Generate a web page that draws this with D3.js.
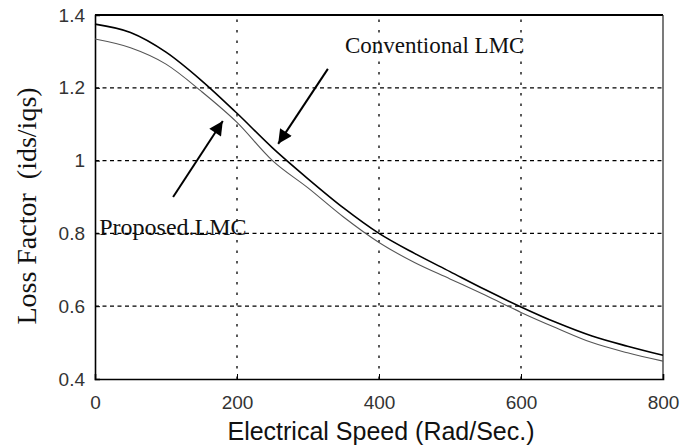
<!DOCTYPE html>
<html><head><meta charset="utf-8">
<script src="https://cdn.jsdelivr.net/npm/d3@7"></script>
<style>body{margin:0;background:#fff}svg{display:block}</style>
</head><body>
<svg id="chart" width="683" height="445"></svg>
<script>
const speeds = [0,50,100,150,200,250,300,350,400,450,500,550,600,650,700,750,800];
const conventional = [1.375,1.352,1.298,1.22,1.13,1.035,0.95,0.87,0.80,0.745,0.695,0.645,0.598,0.555,0.518,0.49,0.465];
const proposed = [1.334,1.31,1.265,1.19,1.105,1.0,0.925,0.845,0.775,0.72,0.675,0.63,0.583,0.54,0.50,0.472,0.449];
const xTicks = [0,200,400,600,800];
const yTicks = [0.4,0.6,0.8,1,1.2,1.4];
const xTitle = "Electrical Speed (Rad/Sec.)";
const yTitle = "Loss Factor  (ids/iqs)";
const annotations = [
  {label:"Conventional LMC", tx:352, ty:1.318, from:[328,1.252], to:[258,1.046]},
  {label:"Proposed.LMC", tx:6, ty:0.82, from:[110,0.90], to:[180,1.109]}
];

const svg = d3.select("#chart");
const m = {l:95, r:20, t:15, b:66};
const W = 683, H = 445;
const x = d3.scaleLinear().domain([0,800]).range([m.l, W-m.r]);
const y = d3.scaleLinear().domain([0.4,1.4]).range([H-m.b, m.t]);

svg.append("defs").append("marker").attr("id","ah")
  .attr("viewBox","0 0 10 10").attr("refX",10).attr("refY",5)
  .attr("markerWidth",8).attr("markerHeight",7).attr("markerUnits","strokeWidth").attr("orient","auto")
  .append("path").attr("d","M0,0 L10,5 L0,10 z").attr("fill","#000");

// grid
const g = svg.append("g");
g.selectAll(".vg").data(xTicks.slice(1,-1)).join("line")
  .attr("x1",d=>x(d)).attr("x2",d=>x(d)).attr("y1",y(0.4)).attr("y2",y(1.4))
  .attr("stroke","#000").attr("stroke-width",1.3).attr("stroke-dasharray","2.5,8");
g.selectAll(".hg").data(yTicks.slice(1,-1)).join("line")
  .attr("x1",x(0)).attr("x2",x(800)).attr("y1",d=>y(d)).attr("y2",d=>y(d))
  .attr("stroke","#000").attr("stroke-width",1.3).attr("stroke-dasharray","4,3.5");

// frame
g.append("line").attr("x1",x(0)).attr("x2",x(800)).attr("y1",y(1.4)).attr("y2",y(1.4)).attr("stroke","#000").attr("stroke-width",2.2);
g.append("line").attr("x1",x(800)).attr("x2",x(800)).attr("y1",y(1.4)).attr("y2",y(0.4)).attr("stroke","#222").attr("stroke-width",1.2);

// axes
const xa = svg.append("g").attr("transform",`translate(0,${y(0.4)})`)
  .call(d3.axisBottom(x).tickValues(xTicks).tickSize(-5).tickPadding(17).tickFormat(d3.format("d")));
const ya = svg.append("g").attr("transform",`translate(${x(0)},0)`)
  .call(d3.axisLeft(y).tickValues(yTicks).tickSize(-5).tickPadding(10).tickFormat(d=>String(d)));
[xa,ya].forEach(a=>{
  a.select(".domain").attr("stroke","#000").attr("stroke-width",1.6);
  a.selectAll(".tick line").attr("stroke","#000");
  a.selectAll("text").attr("font-family","'Liberation Sans',Arial,sans-serif").attr("font-size",19).attr("fill","#333");
});

// curves
const line = d3.line().x((d,i)=>x(speeds[i])).y(d=>y(d)).curve(d3.curveMonotoneX);
svg.append("path").datum(proposed).attr("d",line).attr("fill","none").attr("stroke","#555").attr("stroke-width",1.1);
svg.append("path").datum(conventional).attr("d",line).attr("fill","none").attr("stroke","#000").attr("stroke-width",1.6);

// annotations
annotations.forEach((a,i)=>{
  svg.append("text").attr("x",x(a.tx)).attr("y",y(a.ty)).attr("dy","0.35em")
    .attr("font-family","'Liberation Serif','Times New Roman',serif").attr("font-size",i===0?23:24).attr("fill","#111").text(a.label);
  svg.append("line").attr("x1",x(a.from[0])).attr("y1",y(a.from[1])).attr("x2",x(a.to[0])).attr("y2",y(a.to[1]))
    .attr("stroke","#000").attr("stroke-width",2).attr("marker-end","url(#ah)");
});

// titles
svg.append("text").attr("x",381).attr("y",431).attr("dy","0.35em").attr("text-anchor","middle")
  .attr("font-family","'Liberation Sans',Arial,sans-serif").attr("font-size",25).attr("fill","#111").text(xTitle);
svg.append("text").attr("transform",`translate(26,206) rotate(-90)`).attr("dy","0.35em").attr("text-anchor","middle")
  .style("white-space","pre")
  .attr("font-family","'Liberation Serif','Times New Roman',serif").attr("font-size",28).attr("fill","#111").text(yTitle);
</script>
</body></html>
